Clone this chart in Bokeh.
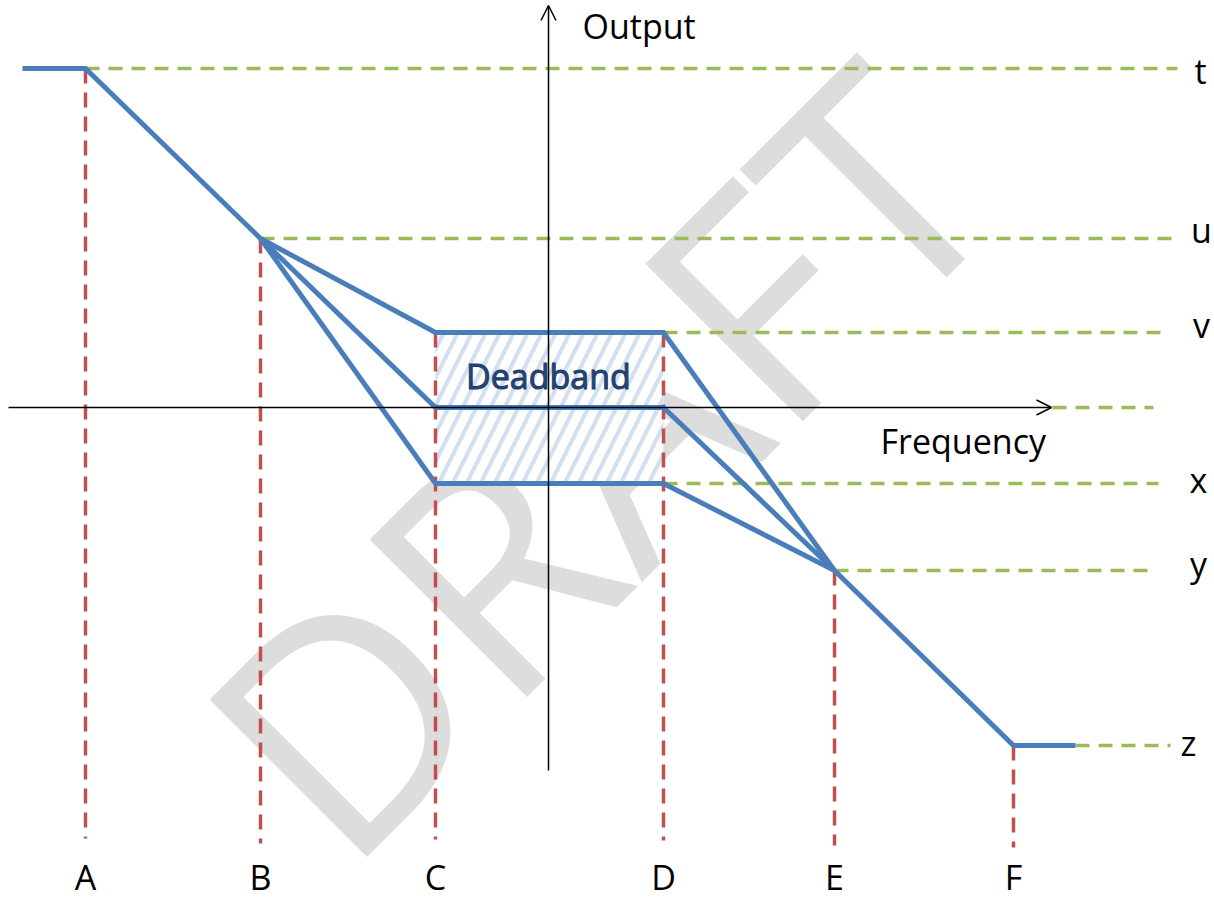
import math
from bokeh.plotting import figure
from bokeh.models import Range1d, Arrow, OpenHead
from bokeh.core.properties import value
from bokeh.embed import file_html
from bokeh.resources import INLINE

# ---- data (origin = crossing of the Frequency / Output axes) ----
freq_labels = ["A", "B", "C", "D", "E", "F"]
freq_pos = [-463, -288, -113, 115, 286, 465]
out_labels = ["t", "u", "v", "x", "y", "z"]
out_levels = [339, 169, 75, -76, -163, -338]
curve_start, curve_end = -526, 527   # flat ends of the droop curve
deadband_label = "Deadband"
watermark = "DRAFT"

A, B, C, D, E, F = freq_pos
t, u, v, xl, yl, z = out_levels

FONT = value("Open Sans")
BLUE = "#4A7EBB"
RED = "#C0504D"
GREEN = "#9BBB59"
DY = 13  # baseline correction for svg text

p = figure(width=1214, height=900, output_backend="svg", toolbar_location=None,
           x_range=Range1d(-548, 666), y_range=Range1d(-493, 407),
           x_axis_type=None, y_axis_type=None, min_border=0,
           outline_line_color=None, background_fill_color="white")
p.grid.visible = False

# watermark
p.text(x=[47], y=[-50], text=[watermark], angle=math.pi / 4,
       text_font=FONT, text_font_size="312px",
       text_color="#DDDDDD", text_align="center", text_baseline="middle")

# deadband box
p.quad(left=[C], right=[D], bottom=[xl], top=[v], fill_color="white",
       line_color=None, hatch_pattern="/", hatch_color="#D0DFF1",
       hatch_weight=4, hatch_scale=28)

# axes with open arrow heads
p.add_layout(Arrow(end=OpenHead(size=15, line_width=1.5, line_color="black"),
                   x_start=-540, y_start=0, x_end=503, y_end=0,
                   line_width=1.5, line_color="black"))
p.add_layout(Arrow(end=OpenHead(size=15, line_width=1.5, line_color="black"),
                   x_start=0, y_start=-363, x_end=0, y_end=402,
                   line_width=1.5, line_color="black"))

# red dashed verticals
red_tops = [t, u, v, v, yl, z]
red_bottoms = [-431, -436, -432, -433, -438, -440]
p.multi_line(xs=[[f, f] for f in freq_pos],
             ys=[[a, b] for a, b in zip(red_tops, red_bottoms)],
             line_color=RED, line_width=3.5, line_dash="15 9")

# green dashed horizontals
g_levels = [t, u, v, 0, xl, yl, z]
g_starts = [A, B, D, 504, D, E, curve_end]
g_ends = [629, 625, 615, 605, 610, 605, 622]
p.multi_line(xs=[[a, b] for a, b in zip(g_starts, g_ends)],
             ys=[[lv, lv] for lv in g_levels],
             line_color=GREEN, line_width=3.5, line_dash="14 9")

# droop curves
xs = [[curve_start, A, B],
      [B, C, D, E],
      [B, C, D, E],
      [B, C, D, E],
      [E, F, curve_end]]
ys = [[t, t, u],
      [u, v, v, yl],
      [u, 0, 0, yl],
      [u, xl, xl, yl],
      [yl, z, z]]
p.multi_line(xs=xs, ys=ys, line_color=BLUE, line_width=5,
             line_join="miter", line_cap="butt")

# texts
p.text(x=[0], y=[19 + DY], text=[deadband_label], text_font=FONT,
       text_font_size="34px", text_color="#1F497D",
       text_outline_color="#1F3864", text_align="center",
       text_baseline="alphabetic")
p.text(x=[34], y=[369 + DY], text=["Output"], text_font=FONT, text_font_size="34px",
       text_color="black", text_align="left", text_baseline="alphabetic")
p.text(x=[332], y=[-46 + DY], text=["Frequency"], text_font=FONT, text_font_size="34px",
       text_color="black", text_align="left", text_baseline="alphabetic")
p.text(x=freq_pos, y=[-482 + DY] * 6, text=freq_labels, text_font=FONT,
       text_font_size="34px", text_color="black", text_align="center",
       text_baseline="alphabetic")
lab_x = [652, 653, 653, 650, 650, 640]
lab_y = [324, 165, 70, -85, -169, -348]
p.text(x=lab_x, y=[ly + DY for ly in lab_y], text=out_labels, text_font=FONT,
       text_font_size="34px", text_color="black", text_align="center",
       text_baseline="alphabetic")

open("out.html", "w").write(file_html(p, INLINE))
